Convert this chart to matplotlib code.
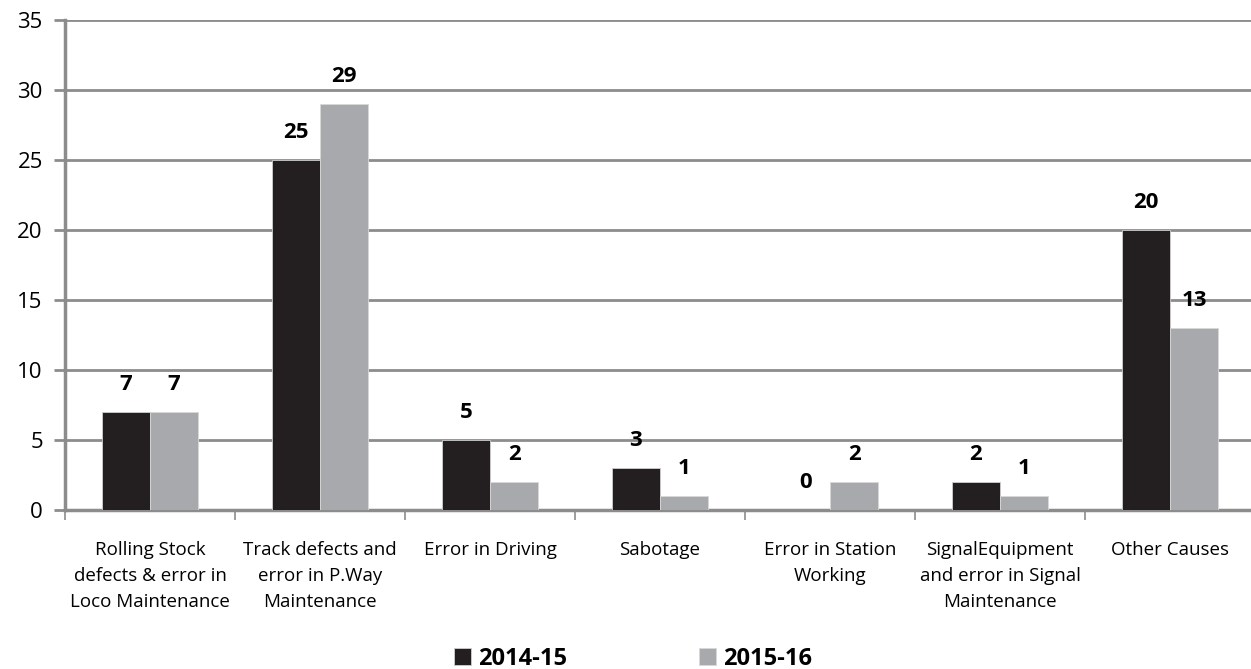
import matplotlib
matplotlib.use("Agg")
import matplotlib.pyplot as plt
import numpy as np

plt.rcParams['font.family'] = ['Open Sans', 'DejaVu Sans']

causes = [
    "Rolling Stock\ndefects & error in\nLoco Maintenance",
    "Track defects and\nerror in P.Way\nMaintenance",
    "Error in Driving",
    "Sabotage",
    "Error in Station\nWorking",
    "SignalEquipment\nand error in Signal\nMaintenance",
    "Other Causes",
]
y2014 = [7, 25, 5, 3, 0, 2, 20]
y2015 = [7, 29, 2, 1, 2, 1, 13]

dark = "#231f20"
light = "#a7a9ac"
grid = "#8c8c8c"

fig = plt.figure(figsize=(12.51, 6.69), dpi=100)
# axes run a little past the right edge of the figure
ax = fig.add_axes([65 / 1251, 1 - 510 / 669, 1190 / 1251, 490 / 669])

x = np.arange(len(causes))
w = 0.285
b1 = ax.bar(x - w / 2, y2014, w, color=dark, edgecolor="#d0d0d0", linewidth=0.6, label="2014-15", zorder=3)
b2 = ax.bar(x + w / 2, y2015, w, color=light, edgecolor="#d8d8d8", linewidth=0.6, label="2015-16", zorder=3)

for bars, vals in ((b1, y2014), (b2, y2015)):
    for r, v in zip(bars, vals):
        ax.annotate(str(v), (r.get_x() + r.get_width() / 2, v), xytext=(0, 20),
                    textcoords="offset points", ha="center", va="center",
                    fontsize=16, fontweight="bold", color="black")

ax.set_xlim(-0.5, len(causes) - 0.5)
ax.set_ylim(0, 35)
ax.set_yticks(range(0, 36, 5))
ax.yaxis.grid(True, color=grid, linewidth=2, zorder=0)
ax.tick_params(axis="y", length=8, width=2, color=grid, labelsize=16, pad=8)

ax.set_xticks(x)
ax.set_xticklabels(causes, fontsize=13.5, linespacing=1.6)
ax.set_xticks(np.arange(-0.5, len(causes), 1), minor=True)
ax.tick_params(axis="x", which="major", length=0, pad=22)
ax.tick_params(axis="x", which="minor", length=7, width=1.2, color=grid)

for side in ("top", "right"):
    ax.spines[side].set_visible(False)
for side in ("left", "bottom"):
    ax.spines[side].set_color(grid)
    ax.spines[side].set_linewidth(2.5)

fig.legend(handles=[b1, b2], loc="center", bbox_to_anchor=(0.506, 1 - 659 / 669),
           ncol=2, frameon=False, prop={"weight": "bold", "size": 17},
           handlelength=0.7, handleheight=0.7, handletextpad=0.3, columnspacing=5.6)

fig.savefig("out.png", dpi=100)
